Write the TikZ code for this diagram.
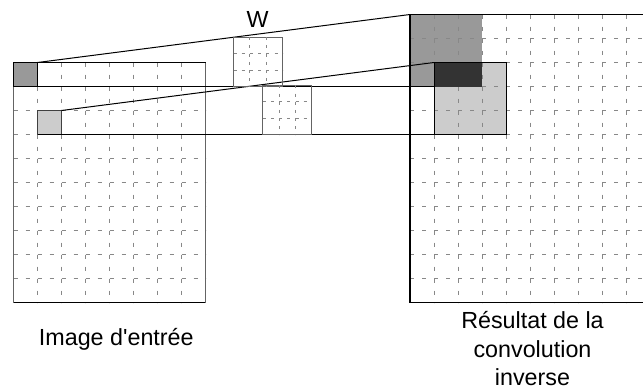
\documentclass[tikz,border=0pt]{standalone}
\usepackage{fontspec}
\setmainfont{Liberation Sans}[Ligatures=TeXOff]
\usetikzlibrary{calc}
\definecolor{dashgray}{RGB}{136,136,136}
\definecolor{edgegray}{RGB}{100,100,100}
\definecolor{midgray}{RGB}{153,153,153}
\definecolor{lightgray}{RGB}{204,204,204}
\definecolor{darkcell}{RGB}{51,51,51}
\begin{document}
\begin{tikzpicture}[x=1pt,y=-1pt,
  gridline/.style={draw=dashgray, line width=1pt, dash pattern=on 4pt off 8pt},
  kernline/.style={draw=dashgray, line width=0.9pt, dash pattern=on 3pt off 5.2pt},
  link/.style={draw=black, line width=1pt},
  cell/.style={rectangle, inner sep=0pt, outer sep=0pt, anchor=north west,
    minimum width=24pt, minimum height=24pt},
  region/.style={rectangle, inner sep=0pt, outer sep=0pt, anchor=north west,
    minimum width=72pt, minimum height=72pt},
  kernel/.style={rectangle, inner sep=0pt, outer sep=0pt, anchor=north west,
    draw=edgegray, line width=1.2pt},
  caption/.style={font=\fontsize{23.3}{28.3}\selectfont, inner sep=0pt, text=black}]
\clip (0,0) rectangle (643,389);
\fill[white] (0,0) rectangle (643,389);

% ---------- input image: 8 x 10 cells ----------
\foreach \r in {1,...,9}
  \draw[gridline] (13.5,{62.5+24*\r}) -- (205.5,{62.5+24*\r});
\foreach \c in {1,...,7}
  \draw[gridline] ({13.5+24*\c},62.5) -- ({13.5+24*\c},302.5);
\draw[black, line width=1pt] (13.5,62.5) rectangle (205.5,302.5);
\draw[edgegray, line width=1.6pt] (13.5,62.5) -- (13.5,302.5);
\draw[edgegray, line width=1.6pt] (205.5,62.5) -- (205.5,302.5);

\node[cell, fill=midgray, draw=black, line width=0.8pt] (inA) at (13.5,62.5) {};
\node[cell, fill=lightgray, draw=black!75, line width=0.8pt] (inB) at (37.5,110.5) {};

% ---------- output image: 10 x 12 cells ----------
\node[region, fill=midgray] (outA) at (410,14.5) {};
\node[region, fill=lightgray] (outB) at (434,62.5) {};
\foreach \r in {1,...,11}
  \draw[gridline] (410,{14.5+24*\r}) -- (650,{14.5+24*\r});
\foreach \c in {1,...,9}
  \draw[gridline] ({410+24*\c},14.5) -- ({410+24*\c},302.5);
\fill[darkcell] (outB.north west) rectangle (outA.south east);
\draw[black, line width=0.8pt] (outB.north west) rectangle (outB.south east);
\draw[black, line width=1.2pt] (650,14.5) -- (410,14.5) -- (410,302.5) -- (650,302.5);
\draw[black, line width=2pt] (410,14.5) -- (410,302.5);

% ---------- connectors ----------
\draw[link] (inA.north east) -- (outA.north west);
\draw[link] (inA.south west) -- (outA.south -| outB.west);
\draw[link] (inB.north east) -- (outB.north west);
\draw[link] (inB.south west) -- (outB.south west);

% ---------- 3 x 3 kernels ----------
\node[kernel, minimum width=49.2pt, minimum height=49.3pt] (kA) at (233.5,37.2) {};
\node[kernel, minimum width=49pt, minimum height=49.2pt] (kB) at (262.7,85.3) {};
\foreach \k in {kA,kB}{
  \foreach \f in {0.3333,0.6667}{
    \draw[kernline] ($(\k.north west)!\f!(\k.north east)$) -- ($(\k.south west)!\f!(\k.south east)$);
    \draw[kernline] ($(\k.north west)!\f!(\k.south west)$) -- ($(\k.north east)!\f!(\k.south east)$);
  }
}

% ---------- labels ----------
\node[caption, anchor=base] (wlabel) at (257.5,27.5) {W};
\node[caption, anchor=base] (inlabel) at (116.3,345) {Image d'entrée};
% base anchor of a multi-line node sits on its last line
\node[caption, anchor=base, align=center] (outlabel) at (532.5,385.5)
  {Résultat de la\\convolution\\inverse};
\end{tikzpicture}
\end{document}
